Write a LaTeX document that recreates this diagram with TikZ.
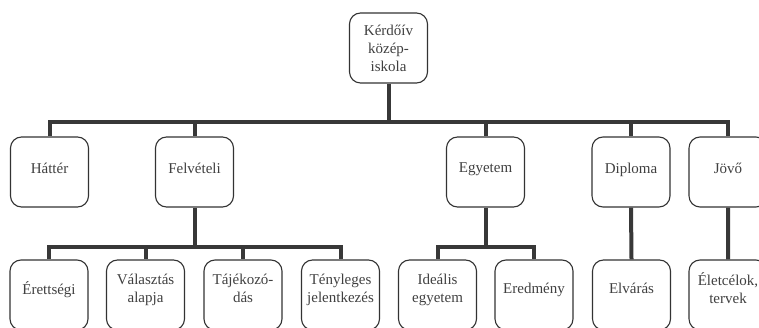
\documentclass[tikz,border=0pt]{standalone}
\usepackage{fontspec}
\setmainfont{Liberation Serif}
\usepackage{tikz}

\tikzset{
  box/.style={rectangle, draw=black!80, line width=1.1pt, rounded corners=11pt,
    minimum width=78pt, minimum height=70pt, inner sep=1pt, align=center,
    font=\fontsize{15}{18}\selectfont, text=black!75},
  lowbox/.style={box, text depth=14pt},
  conn/.style={line width=4pt, draw=black!78}
}

\begin{document}
\begin{tikzpicture}[x=1pt, y=-1pt]
\useasboundingbox (0,0) rectangle (759,328);
\clip (0,0) rectangle (759,328);

\node[box] (root) at (388.5,48) {Kérdőív\\közép-\\iskola};

\node[box, text depth=8pt] (hatter) at (49.5,172) {Háttér};
\node[box, text depth=8pt] (felv) at (194.5,172) {Felvételi};
\node[box, text depth=8pt] (egyetem) at (485.5,172) {Egyetem};
\node[box, text depth=8pt] (diploma) at (631,172) {Diploma};
\node[box, text depth=8pt] (jovo) at (728,172) {Jövő};

\node[lowbox] (erett) at (49,295) {Érettségi};
\node[lowbox] (valaszt) at (145.5,295) {Választás\\alapja};
\node[lowbox] (tajek) at (243,295) {Tájékozó-\\dás};
\node[lowbox] (tenyl) at (340.5,295) {Tényleges\\jelentkezés};
\node[lowbox] (idealis) at (437.5,295) {Ideális\\egyetem};
\node[lowbox] (eredm) at (534,295) {Eredmény};
\node[lowbox] (elvaras) at (631.5,295) {Elvárás};
\node[lowbox] (eletc) at (728,295) {Életcélok,\\tervek};

\draw[conn] (root.south) -- ++(0,38) -| (hatter.north)
            (root.south) -- ++(0,38) -| (felv.north)
            (root.south) -- ++(0,38) -| (egyetem.north)
            (root.south) -- ++(0,38) -| (diploma.north)
            (root.south) -- ++(0,38) -| (jovo.north);

\draw[conn] (felv.south) -- ++(0,39) -| (erett.north)
            (felv.south) -- ++(0,39) -| (valaszt.north)
            (felv.south) -- ++(0,39) -| (tajek.north)
            (felv.south) -- ++(0,39) -| (tenyl.north);

\draw[conn] (egyetem.south) -- ++(0,39) -| (idealis.north)
            (egyetem.south) -- ++(0,39) -| (eredm.north);

\draw[conn] (diploma.south) -- (elvaras.north)
            (jovo.south) -- (eletc.north);
\end{tikzpicture}
\end{document}
